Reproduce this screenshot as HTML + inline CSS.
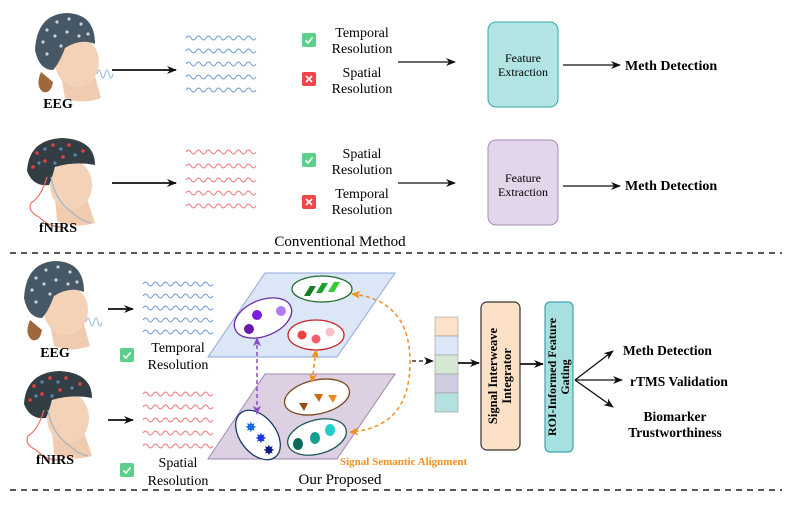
<!DOCTYPE html>
<html><head><meta charset="utf-8"><style>
html,body{margin:0;padding:0;background:#fff;}
svg{display:block;font-family:"Liberation Serif",serif;}
</style></head><body>
<svg width="790" height="512" viewBox="0 0 790 512" xmlns="http://www.w3.org/2000/svg">
<defs>
<marker id="ah" markerWidth="10" markerHeight="8" refX="9" refY="4" orient="auto" markerUnits="userSpaceOnUse"><path d="M0,0 L10,4 L0,8 L3,4z" fill="#111"/></marker>
<marker id="ao" markerWidth="9" markerHeight="8" refX="8" refY="4" orient="auto-start-reverse" markerUnits="userSpaceOnUse"><path d="M0,0 L9,4 L0,8 L2,4z" fill="#f0901e"/></marker>
<marker id="ap" markerWidth="9" markerHeight="8" refX="8" refY="4" orient="auto-start-reverse" markerUnits="userSpaceOnUse"><path d="M0,0 L9,4 L0,8 L2,4z" fill="#8a4fc0"/></marker>
<g id="eeg">
  <path d="M8,62 q-6,14 2,20 q8,2 10,-10z" fill="#a0673a"/>
  <path d="M28,66 L32,88 Q48,95 68,88 L62,66z" fill="#f0cbb0"/>
  <ellipse cx="44" cy="52" rx="22" ry="25" fill="#f3d2b8"/>
  <path d="M2,40 Q4,4 34,3 Q62,4 62,34 Q48,28 32,38 Q26,54 20,60 Q6,60 2,40z" fill="#465766"/>
  <g fill="#c9d0d6"><circle cx="14" cy="20" r="1.6"/><circle cx="24" cy="12" r="1.6"/><circle cx="36" cy="9" r="1.6"/><circle cx="48" cy="14" r="1.6"/><circle cx="10" cy="32" r="1.6"/><circle cx="22" cy="26" r="1.6"/><circle cx="34" cy="22" r="1.6"/><circle cx="46" cy="26" r="1.6"/><circle cx="55" cy="24" r="1.6"/><circle cx="14" cy="44" r="1.6"/><circle cx="28" cy="36" r="1.6"/></g>
  <path d="M64,64 q2,-8 4,0 t4,0 t4,0 t4,0" stroke="#8fb4dc" fill="none" stroke-width="1"/>
</g>
<g id="fnirs">
  <path d="M30,62 L32,86 Q48,94 70,88 L62,64z" fill="#f0cbb0"/>
  <ellipse cx="46" cy="50" rx="21" ry="25" fill="#f3d2b8"/>
  <path d="M2,36 Q4,4 38,3 Q70,5 70,30 Q50,26 30,32 Q26,46 24,50 Q8,52 2,36z" fill="#333d44"/>
  <g fill="#e04040"><circle cx="12" cy="18" r="1.8"/><circle cx="28" cy="10" r="1.8"/><circle cx="44" cy="10" r="1.8"/><circle cx="58" cy="16" r="1.8"/><circle cx="20" cy="26" r="1.8"/><circle cx="38" cy="22" r="1.8"/><circle cx="8" cy="32" r="1.8"/></g>
  <g fill="#5a88b8"><circle cx="20" cy="14" r="1.6"/><circle cx="36" cy="14" r="1.6"/><circle cx="50" cy="20" r="1.6"/><circle cx="30" cy="28" r="1.6"/><circle cx="14" cy="28" r="1.6"/></g>
  <path d="M22,42 q-6,20 -16,26 q-4,8 8,14 q10,10 22,10" stroke="#f07060" fill="none" stroke-width="1.2"/>
  <path d="M26,42 q4,24 22,36 q8,8 18,10" stroke="#9fb6c4" fill="none" stroke-width="1.2"/>
</g>
<path id="w" d="M0,0 q2.5,-4 5,0 t5,0 t5,0 t5,0 t5,0 t5,0 t5,0 t5,0 t5,0 t5,0 t5,0 t5,0 t5,0 t5,0" fill="none" stroke-width="1"/>
<g id="ck"><rect x="0" y="0" width="14" height="14" rx="2" fill="#5ccf8a"/><path d="M3.5,7.5 L6,10 L10.5,4.5" stroke="#fff" stroke-width="1.6" fill="none"/></g>
<g id="cx"><rect x="0" y="0" width="14" height="14" rx="2" fill="#f0464a"/><path d="M4,4 L10,10 M10,4 L4,10" stroke="#fff" stroke-width="1.6"/></g>
</defs>

<use href="#eeg" x="33" y="10"/>
<text x="58" y="108" font-size="14" font-weight="bold" text-anchor="middle">EEG</text>
<line x1="112" y1="70" x2="176" y2="70" stroke="#111" stroke-width="1.8" marker-end="url(#ah)"/>
<g stroke="#6f9fd6"><use href="#w" x="186" y="38"/><use href="#w" x="186" y="51"/><use href="#w" x="186" y="64"/><use href="#w" x="186" y="77"/><use href="#w" x="186" y="90"/></g>
<use href="#ck" x="302" y="33"/>
<text x="362" y="37" font-size="14" text-anchor="middle">Temporal</text>
<text x="362" y="53" font-size="14" text-anchor="middle">Resolution</text>
<use href="#cx" x="302" y="72"/>
<text x="362" y="77" font-size="14" text-anchor="middle">Spatial</text>
<text x="362" y="93" font-size="14" text-anchor="middle">Resolution</text>
<line x1="398" y1="62" x2="455" y2="62" stroke="#111" stroke-width="1.2" marker-end="url(#ah)"/>
<rect x="488" y="22" width="70" height="85" rx="8" fill="#b2e4e4" stroke="#3aa7a7"/>
<text x="523" y="62" font-size="12" text-anchor="middle">Feature</text>
<text x="523" y="76" font-size="12" text-anchor="middle">Extraction</text>
<line x1="563" y1="65" x2="620" y2="65" stroke="#111" stroke-width="1.2" marker-end="url(#ah)"/>
<text x="625" y="70" font-size="14" font-weight="bold">Meth Detection</text>

<use href="#fnirs" x="25" y="135"/>
<text x="58" y="232" font-size="14" font-weight="bold" text-anchor="middle">fNIRS</text>
<line x1="112" y1="183" x2="176" y2="183" stroke="#111" stroke-width="1.8" marker-end="url(#ah)"/>
<g stroke="#ef7b7b"><use href="#w" x="186" y="152"/><use href="#w" x="186" y="166"/><use href="#w" x="186" y="180"/><use href="#w" x="186" y="193"/><use href="#w" x="186" y="206"/></g>
<use href="#ck" x="302" y="153"/>
<text x="362" y="158" font-size="14" text-anchor="middle">Spatial</text>
<text x="362" y="174" font-size="14" text-anchor="middle">Resolution</text>
<use href="#cx" x="302" y="195"/>
<text x="362" y="198" font-size="14" text-anchor="middle">Temporal</text>
<text x="362" y="214" font-size="14" text-anchor="middle">Resolution</text>
<line x1="398" y1="183" x2="455" y2="183" stroke="#111" stroke-width="1.2" marker-end="url(#ah)"/>
<rect x="488" y="140" width="70" height="85" rx="8" fill="#e3d5ea" stroke="#a48cb4"/>
<text x="523" y="182" font-size="12" text-anchor="middle">Feature</text>
<text x="523" y="196" font-size="12" text-anchor="middle">Extraction</text>
<line x1="563" y1="186" x2="620" y2="186" stroke="#111" stroke-width="1.2" marker-end="url(#ah)"/>
<text x="625" y="190" font-size="14" font-weight="bold">Meth Detection</text>
<text x="340" y="246" font-size="15" text-anchor="middle">Conventional Method</text>

<line x1="10" y1="253" x2="782" y2="253" stroke="#222" stroke-width="1.6" stroke-dasharray="6,5"/>
<line x1="10" y1="490" x2="782" y2="490" stroke="#222" stroke-width="1.6" stroke-dasharray="6,5"/>

<use href="#eeg" x="22" y="258"/>
<text x="55" y="357" font-size="14" font-weight="bold" text-anchor="middle">EEG</text>
<line x1="108" y1="309" x2="133" y2="309" stroke="#111" stroke-width="1.8" marker-end="url(#ah)"/>
<g stroke="#6f9fd6"><use href="#w" x="143" y="284"/><use href="#w" x="143" y="296"/><use href="#w" x="143" y="308"/><use href="#w" x="143" y="320"/><use href="#w" x="143" y="332"/></g>
<use href="#ck" x="120" y="348"/>
<text x="178" y="352" font-size="14" text-anchor="middle">Temporal</text>
<text x="178" y="369" font-size="14" text-anchor="middle">Resolution</text>
<use href="#fnirs" x="22" y="368"/>
<text x="55" y="464" font-size="14" font-weight="bold" text-anchor="middle">fNIRS</text>
<line x1="108" y1="420" x2="133" y2="420" stroke="#111" stroke-width="1.8" marker-end="url(#ah)"/>
<g stroke="#ef7b7b"><use href="#w" x="143" y="394"/><use href="#w" x="143" y="407"/><use href="#w" x="143" y="420"/><use href="#w" x="143" y="433"/><use href="#w" x="143" y="446"/></g>
<use href="#ck" x="120" y="463"/>
<text x="178" y="467" font-size="14" text-anchor="middle">Spatial</text>
<text x="178" y="485" font-size="14" text-anchor="middle">Resolution</text>

<polygon points="265,273 395,273 337,357 208,357" fill="#dbe6f7" stroke="#8fa8d8"/>
<polygon points="265,374 395,374 337,459 208,459" fill="#ddd0e3" stroke="#9e8aae"/>
<ellipse cx="322" cy="289" rx="30" ry="13" fill="#fff" stroke="#1f6b2a" stroke-width="1.3"/>
<g fill="#1a7a2a"><path d="M304,296 l6,-10 l6,0 l-6,10z"/><path d="M316,293 l6,-10 l6,0 l-6,10z" fill="#20a030"/><path d="M328,292 l6,-10 l6,0 l-6,10z" fill="#33cc33"/></g>
<ellipse cx="263" cy="318" rx="30" ry="18" transform="rotate(-22 263 318)" fill="#fff" stroke="#6a2aa8" stroke-width="1.3"/>
<circle cx="257" cy="315" r="5" fill="#7a1fe0"/><circle cx="281" cy="311" r="5" fill="#b37cf5"/><circle cx="249" cy="329" r="5" fill="#6a16b0"/>
<ellipse cx="316" cy="335" rx="28" ry="15" fill="#fff" stroke="#c8252a" stroke-width="1.3"/>
<circle cx="302" cy="335" r="4.5" fill="#f04040"/><circle cx="316" cy="339" r="4.5" fill="#f06070"/><circle cx="330" cy="332" r="4.5" fill="#f8c0c8"/>
<ellipse cx="317" cy="397" rx="33" ry="17" transform="rotate(-12 317 397)" fill="#fff" stroke="#7a4a1a" stroke-width="1.3"/>
<path d="M299,403 l9,0 l-4,8z" fill="#9a4a10"/><path d="M314,394 l9,0 l-4,8z" fill="#d06a10"/><path d="M328,395 l9,0 l-4,8z" fill="#f08a20"/>
<ellipse cx="258" cy="435" rx="18" ry="28" transform="rotate(-38 258 435)" fill="#fff" stroke="#1a3a6a" stroke-width="1.3"/>
<text x="245" y="432" font-size="14" fill="#1a6ae0">✸</text><text x="255" y="443" font-size="14" fill="#1a3ae0">✸</text><text x="263" y="455" font-size="14" fill="#0a1a8a">✸</text>
<ellipse cx="317" cy="437" rx="30" ry="17" transform="rotate(-15 317 437)" fill="#fff" stroke="#1a5a5a" stroke-width="1.3"/>
<ellipse cx="298" cy="444" rx="5" ry="6" fill="#0a6a5a"/><ellipse cx="315" cy="438" rx="5" ry="6" fill="#14a090"/><ellipse cx="330" cy="430" rx="5" ry="6" fill="#20d0c8"/>
<line x1="257" y1="338" x2="257" y2="414" stroke="#8a4fc0" stroke-width="1.5" stroke-dasharray="4,3" marker-start="url(#ap)" marker-end="url(#ap)"/>
<line x1="316" y1="350" x2="312" y2="382" stroke="#f0901e" stroke-width="1.5" stroke-dasharray="4,3" marker-start="url(#ao)" marker-end="url(#ao)"/>
<path d="M352,294 Q410,300 410,362 Q410,428 350,432" fill="none" stroke="#f0901e" stroke-width="1.5" stroke-dasharray="4,3" marker-start="url(#ao)" marker-end="url(#ao)"/>
<line x1="412" y1="361" x2="433" y2="361" stroke="#111" stroke-width="1.3" stroke-dasharray="4,3" marker-end="url(#ah)"/>
<text x="340" y="465" font-size="11" font-weight="bold" fill="#f0901e">Signal Semantic Alignment</text>
<text x="340" y="484" font-size="15" text-anchor="middle">Our Proposed</text>

<rect x="435" y="317" width="23" height="19" fill="#fce3c8" stroke="#999" stroke-width="0.6"/>
<rect x="435" y="336" width="23" height="19" fill="#dbe6f7" stroke="#999" stroke-width="0.6"/>
<rect x="435" y="355" width="23" height="19" fill="#d5e8d4" stroke="#999" stroke-width="0.6"/>
<rect x="435" y="374" width="23" height="19" fill="#d0cce0" stroke="#999" stroke-width="0.6"/>
<rect x="435" y="393" width="23" height="19" fill="#b4e0e0" stroke="#999" stroke-width="0.6"/>
<line x1="458" y1="363" x2="479" y2="363" stroke="#111" stroke-width="1.8" marker-end="url(#ah)"/>
<rect x="481" y="302" width="39" height="148" rx="6" fill="#fde1c6" stroke="#333" stroke-width="1.2"/>
<text transform="translate(497,376) rotate(-90)" font-size="12.5" font-weight="bold" text-anchor="middle">Signal Interweave</text>
<text transform="translate(511,376) rotate(-90)" font-size="12.5" font-weight="bold" text-anchor="middle">Integrator</text>
<line x1="520" y1="364" x2="543" y2="364" stroke="#111" stroke-width="1.8" marker-end="url(#ah)"/>
<rect x="545" y="302" width="28" height="150" rx="5" fill="#a8e0e0" stroke="#3aa7a7" stroke-width="1.2"/>
<text transform="translate(556,377) rotate(-90)" font-size="12" font-weight="bold" text-anchor="middle">ROI-Informed Feature</text>
<text transform="translate(569,377) rotate(-90)" font-size="12" font-weight="bold" text-anchor="middle">Gating</text>
<line x1="575" y1="380" x2="613" y2="351" stroke="#111" stroke-width="1.3" marker-end="url(#ah)"/>
<line x1="575" y1="380" x2="622" y2="380" stroke="#111" stroke-width="1.3" marker-end="url(#ah)"/>
<line x1="575" y1="380" x2="613" y2="407" stroke="#111" stroke-width="1.3" marker-end="url(#ah)"/>
<text x="623" y="355" font-size="13.5" font-weight="bold">Meth Detection</text>
<text x="630" y="386" font-size="13.5" font-weight="bold">rTMS Validation</text>
<text x="675" y="421" font-size="13.5" font-weight="bold" text-anchor="middle">Biomarker</text>
<text x="675" y="437" font-size="13.5" font-weight="bold" text-anchor="middle">Trustworthiness</text>
</svg>
</body></html>
